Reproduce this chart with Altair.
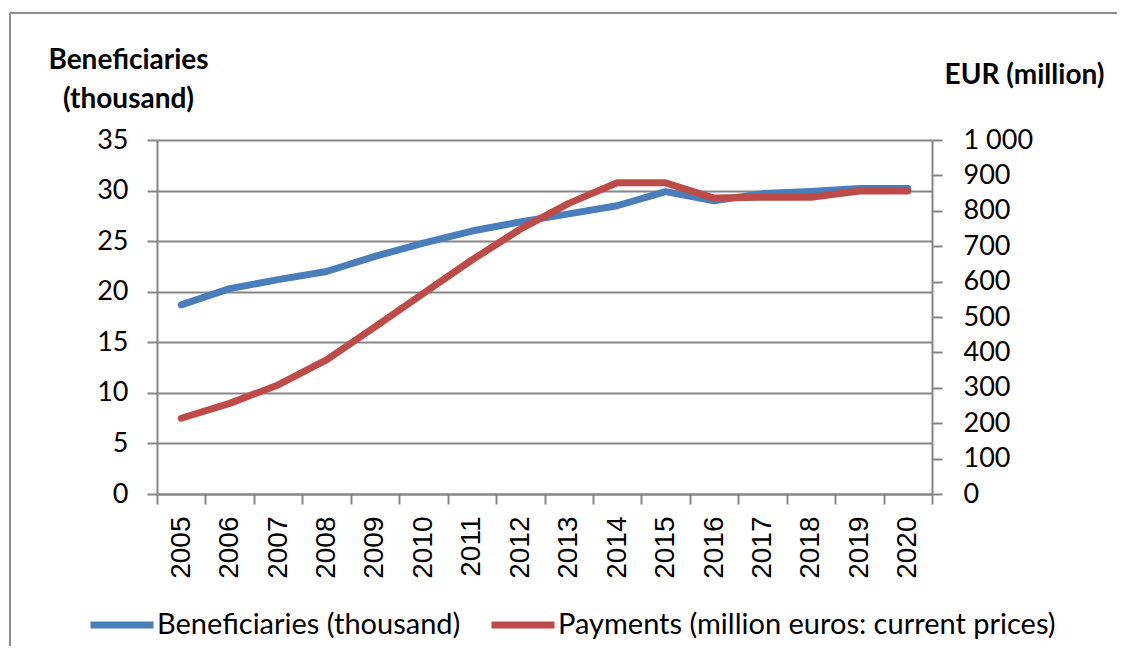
import altair as alt
import pandas as pd

years = ["2005", "2006", "2007", "2008", "2009", "2010", "2011", "2012",
         "2013", "2014", "2015", "2016", "2017", "2018", "2019", "2020"]
beneficiaries = [18.7, 20.3, 21.2, 22.0, 23.5, 24.8, 26.0, 26.9,
                 27.7, 28.5, 29.9, 29.0, 29.7, 29.9, 30.2, 30.2]
payments = [214, 256, 308, 379, 472, 567, 661, 748,
            821, 879, 879, 836, 838, 838, 856, 856]
series_names = ["Beneficiaries (thousand)", "Payments (million euros: current prices)"]
series_colors = ["#4a7ebb", "#be4b48"]
left_ticks = [0, 5, 10, 15, 20, 25, 30, 35]
right_ticks = [0, 100, 200, 300, 400, 500, 600, 700, 800, 900, 1000]

df_ben = pd.DataFrame({"year": years, "value": beneficiaries, "series": series_names[0]})
df_pay = pd.DataFrame({"year": years, "value": payments, "series": series_names[1]})

GRAY = "#868686"
NUM_FONT = "Lato"

x_enc = alt.X(
    "year:O", bandPosition=0.5,
    scale=alt.Scale(type="band", paddingInner=0, paddingOuter=0),
    axis=alt.Axis(title=None, labelAngle=-90, labelFont="Liberation Sans",
                  labelFontSize=28, labelColor="black", tickBand="extent",
                  tickSize=10, tickColor=GRAY, tickWidth=2, domainColor=GRAY,
                  domainWidth=2, labelPadding=12, grid=False),
)

color_scale = alt.Scale(domain=series_names, range=series_colors)
legend = alt.Legend(
    title=None, orient="none", direction="horizontal", legendX=-70, legendY=450,
    symbolType="stroke", symbolSize=3969, symbolStrokeWidth=7,
    labelFont=NUM_FONT, labelFontSize=29, labelColor="black", labelOffset=0,
    columnPadding=16, labelLimit=700,
)
color_enc = alt.Color("series:N", scale=color_scale, legend=legend)

blue = alt.Chart(df_ben).mark_line(strokeWidth=7, strokeCap="round", strokeJoin="round").encode(
    x=x_enc,
    y=alt.Y("value:Q", scale=alt.Scale(domain=[0, 35], nice=False),
            axis=alt.Axis(values=left_ticks, orient="left",
                          title=["Beneficiaries", "(thousand)"],
                          titleAngle=0, titleAlign="center", titleBaseline="alphabetic",
                          titleX=-29, titleY=-72, titleLineHeight=39,
                          titleFont=NUM_FONT, titleFontSize=28, titleFontWeight="bold",
                          titleColor="black",
                          labelFont=NUM_FONT, labelFontSize=27, labelColor="black",
                          labelPadding=19, tickSize=10, tickColor=GRAY, tickWidth=2,
                          domainColor=GRAY, domainWidth=2,
                          grid=True, gridColor=GRAY, gridWidth=2)),
    color=color_enc,
)

red = alt.Chart(df_pay).mark_line(strokeWidth=7, strokeCap="round", strokeJoin="round").encode(
    x=x_enc,
    y=alt.Y("value:Q", scale=alt.Scale(domain=[0, 1000], nice=False),
            axis=alt.Axis(values=right_ticks, orient="right",
                          title="EUR (million)",
                          titleAngle=0, titleAlign="center", titleBaseline="alphabetic",
                          titleX=92, titleY=-57,
                          titleFont=NUM_FONT, titleFontSize=28, titleFontWeight="bold",
                          titleColor="black",
                          labelExpr="datum.value == 1000 ? '1 000' : datum.label",
                          labelFont=NUM_FONT, labelFontSize=27, labelColor="black",
                          labelPadding=21, tickSize=10, tickColor=GRAY, tickWidth=2,
                          domainColor=GRAY, domainWidth=2, grid=False)),
    color=color_enc,
)

frame_df = pd.DataFrame({"k": [0]})
frame_top = alt.Chart(frame_df).mark_rule(color="#8c8c8c", strokeWidth=2).encode(
    x=alt.value(-147), x2=alt.value(1100), y=alt.value(-127))
frame_left = alt.Chart(frame_df).mark_rule(color="#8c8c8c", strokeWidth=2).encode(
    x=alt.value(-147), y=alt.value(-127), y2=alt.value(700))

chart = alt.layer(blue, red, frame_top, frame_left).resolve_scale(
    y="independent"
).properties(
    width=775, height=354, autosize="none",
    padding={"left": 149, "top": 132, "right": 185, "bottom": 152},
    background="white",
).configure_view(strokeWidth=0)

chart.save("out.html", embed_options={"renderer": "svg", "actions": False})
